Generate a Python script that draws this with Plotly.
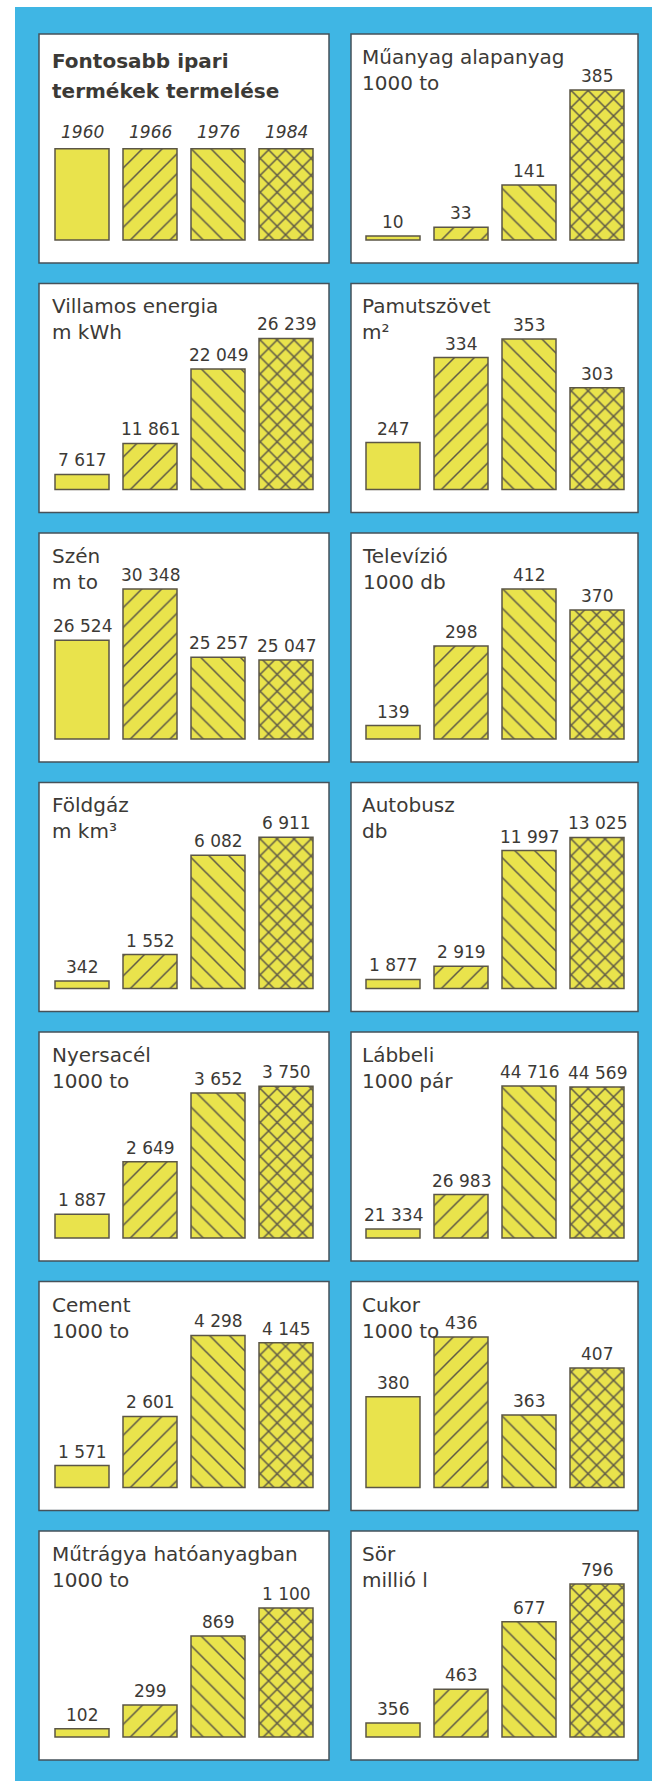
import plotly.graph_objects as go

# ---------------- data ----------------
years = ["1960", "1966", "1976", "1984"]
legend_title = ["Fontosabb ipari", "termékek termelése"]
legend_swatch = [1, 1, 1, 1]

titles = [
    "Műanyag alapanyag<br>1000 to",
    "Villamos energia<br>m kWh",
    "Pamutszövet<br>m²",
    "Szén<br>m to",
    "Televízió<br>1000 db",
    "Földgáz<br>m km³",
    "Autobusz<br>db",
    "Nyersacél<br>1000 to",
    "Lábbeli<br>1000 pár",
    "Cement<br>1000 to",
    "Cukor<br>1000 to",
    "Műtrágya hatóanyagban<br>1000 to",
    "Sör<br>millió l",
]

muanyag = [10, 33, 141, 385]
villamos_energia = [7617, 11861, 22049, 26239]
pamutszovet = [247, 334, 353, 303]
szen = [26524, 30348, 25257, 25047]
televizio = [139, 298, 412, 370]
foldgaz = [342, 1552, 6082, 6911]
autobusz = [1877, 2919, 11997, 13025]
nyersacel = [1887, 2649, 3652, 3750]
labbeli = [21334, 26983, 44716, 44569]
cement = [1571, 2601, 4298, 4145]
cukor = [380, 436, 363, 407]
mutragya = [102, 299, 869, 1100]
sor = [356, 463, 677, 796]

series = [muanyag, villamos_energia, pamutszovet, szen, televizio, foldgaz,
          autobusz, nyersacel, labbeli, cement, cukor, mutragya, sor]

# value axis of each small chart: value at the bar baseline / at the top of the plot area
axis_floor = [0, 5550, 199, 19150, 112, 0, 1170, 1540, 19880, 1110, 295, 34, 312]
axis_ceiling = [449, 29523, 378, 32210, 462, 7991, 14906, 4087, 48475, 4779, 459, 1480, 866]
legend_ceiling = 1.92

# ---------------- styling / geometry ----------------
W, H = 652, 1781
BLUE = "#3fb6e4"
YELLOW = "#e9e34c"
INK = "#5b5646"
TEXT = "#3c3a36"
BORDER = "#46525a"
FONT = "DejaVu Sans"

ROW_TOP0, ROW_PITCH, PANEL_H = 34, 249.5, 229
COLS = [(39, 329), (351, 638)]
SLOTS = [(48, 320), (359, 631)]
TEXT_X = [50, 360]
FLOOR_OFF = 206
PLOT_H = 175
PAD = 2

pat_shape = ["", "/", "\\", "x"]
pat_size = [10, 14, 14, 12]
pat_solid = [0.2, 0.107, 0.107, 0.23]


def fx(px):
    return px / W


def fy(py):
    return 1 - py / H


fig = go.Figure()
shapes = []
annotations = []
layout_axes = {}

# scan margins
shapes.append(dict(type="rect", xref="paper", yref="paper", x0=0, x1=fx(15), y0=0, y1=1,
                   fillcolor="white", line=dict(width=0), layer="below"))
shapes.append(dict(type="rect", xref="paper", yref="paper", x0=0, x1=1, y0=fy(7), y1=1,
                   fillcolor="white", line=dict(width=0), layer="below"))

for p in range(14):
    row, col = divmod(p, 2)
    top = ROW_TOP0 + row * ROW_PITCH
    left, right = COLS[col]
    shapes.append(dict(type="rect", xref="paper", yref="paper",
                       x0=fx(left), x1=fx(right), y0=fy(top + PANEL_H), y1=fy(top),
                       fillcolor="white", line=dict(color=BORDER, width=1.5), layer="below"))

    n = p + 1
    xa = "x" if n == 1 else f"x{n}"
    ya = "y" if n == 1 else f"y{n}"
    floor_px = top + FLOOR_OFF
    if p == 0:
        vals, lo, hi = legend_swatch, 0, legend_ceiling
    else:
        vals, lo, hi = series[p - 1], axis_floor[p - 1], axis_ceiling[p - 1]
    lo_ext = lo - PAD * (hi - lo) / PLOT_H

    layout_axes["xaxis" if n == 1 else f"xaxis{n}"] = dict(
        domain=[fx(SLOTS[col][0]), fx(SLOTS[col][1])], range=[-0.5, 3.5],
        visible=False, fixedrange=True, anchor=ya)
    layout_axes["yaxis" if n == 1 else f"yaxis{n}"] = dict(
        domain=[fy(floor_px + PAD), fy(floor_px - PLOT_H)], range=[lo_ext, hi],
        visible=False, fixedrange=True, anchor=xa)

    fig.add_trace(go.Bar(
        x=[0, 1, 2, 3], y=[v - lo for v in vals], base=lo,
        xaxis=xa, yaxis=ya, showlegend=False, hoverinfo="skip",
        marker=dict(color=YELLOW, line=dict(color=INK, width=1.5),
                    pattern=dict(shape=pat_shape, size=pat_size, solidity=pat_solid,
                                 fgcolor=INK, bgcolor=YELLOW, fgopacity=1)),
    ))

    if p == 0:
        for i, yr in enumerate(years):
            annotations.append(dict(x=i, y=vals[i], xref=xa, yref=ya, text=yr, showarrow=False,
                                    yanchor="bottom", yshift=5,
                                    font=dict(family=FONT, size=17, color=TEXT, style="italic")))
        for k, line in enumerate(legend_title):
            annotations.append(dict(x=fx(TEXT_X[col]), y=fy(top + 13 + 30 * k), xref="paper", yref="paper",
                                    text=line, showarrow=False, xanchor="left", yanchor="top",
                                    font=dict(family=FONT, size=20, color=TEXT, weight="bold")))
    else:
        for i, v in enumerate(vals):
            annotations.append(dict(x=i, y=v, xref=xa, yref=ya,
                                    text=f"{v:,}".replace(",", " "), showarrow=False,
                                    yanchor="bottom", yshift=2,
                                    font=dict(family=FONT, size=17, color=TEXT)))
        annotations.append(dict(x=fx(TEXT_X[col]), y=fy(top + 9), xref="paper", yref="paper",
                                text=titles[p - 1], showarrow=False, xanchor="left", yanchor="top",
                                align="left", font=dict(family=FONT, size=20, color=TEXT)))

fig.update_layout(
    width=W, height=H, margin=dict(l=0, r=0, t=0, b=0),
    paper_bgcolor=BLUE, plot_bgcolor="rgba(0,0,0,0)",
    bargap=0.206, shapes=shapes, annotations=annotations,
    **layout_axes,
)

fig.write_html("out.html", config={"displayModeBar": False, "staticPlot": True},
               post_script="document.body.style.margin='0';")
